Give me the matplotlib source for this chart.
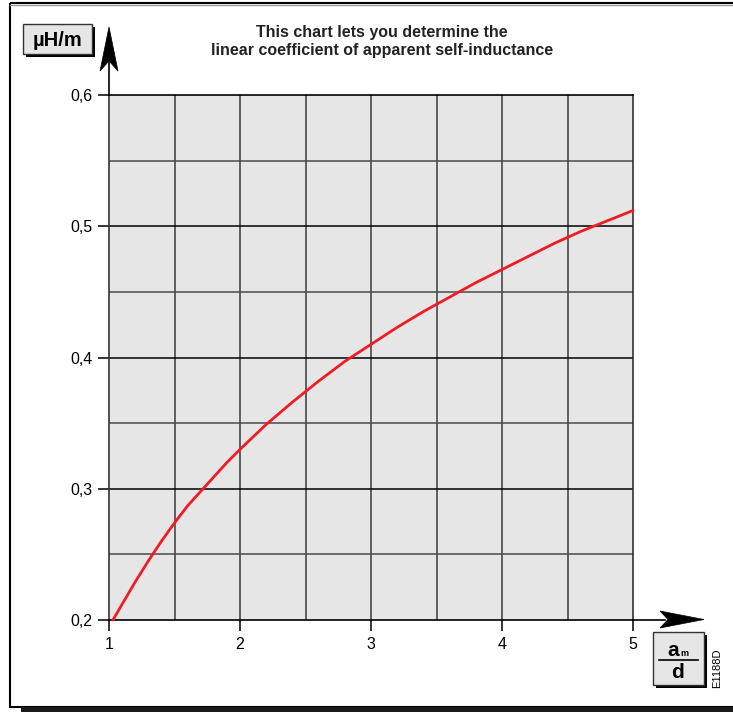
import numpy as np
import matplotlib.pyplot as plt
from matplotlib.patches import Rectangle, Polygon

plt.rcParams['font.family'] = ['Liberation Sans', 'DejaVu Sans']

# am/d ratio and linear self-inductance (uH/m)
ratio = [1.03, 1.1, 1.2, 1.3, 1.4, 1.5, 1.6, 1.7, 1.8, 1.9, 2.0,
         2.2, 2.4, 2.6, 2.8, 3.0, 3.2, 3.4, 3.6, 3.8, 4.0,
         4.2, 4.4, 4.6, 4.8, 5.0]
inductance = [0.200, 0.212, 0.229, 0.245, 0.260, 0.274, 0.287, 0.298, 0.309, 0.320, 0.330,
              0.349, 0.366, 0.382, 0.397, 0.410, 0.423, 0.435, 0.446, 0.457, 0.467,
              0.477, 0.487, 0.496, 0.504, 0.512]

x_ticks = [1, 2, 3, 4, 5]
y_ticks = [0.2, 0.3, 0.4, 0.5, 0.6]
y_labels = ['0,2', '0,3', '0,4', '0,5', '0,6']

W, H = 733, 712
fig = plt.figure(figsize=(W / 100, H / 100), dpi=100)

# main plot area
ax = fig.add_axes([109 / W, 1 - 620 / H, 524 / W, 525 / H])
ax.set_facecolor('#e6e6e6')
ax.set_xlim(1, 5)
ax.set_ylim(0.2, 0.6)
for xv in np.arange(1.5, 5, 0.5):
    ax.axvline(xv, color='#3a3a3a', lw=1.1, zorder=1)
for yv in np.arange(0.25, 0.6, 0.1):
    ax.axhline(yv, color='#4a4a4a', lw=1.1, zorder=1)
for yv in [0.3, 0.4, 0.5]:
    ax.axhline(yv, color='black', lw=1.1, zorder=1)
ax.plot(ratio, inductance, color='#ee1c25', lw=2, zorder=3, clip_on=False,
        solid_joinstyle='round', solid_capstyle='round')

for side in ['left', 'right']:
    ax.spines[side].set_color('#333333')
    ax.spines[side].set_linewidth(1.2)
for side in ['top', 'bottom']:
    ax.spines[side].set_color('black')
    ax.spines[side].set_linewidth(1.2)

ax.set_xticks(x_ticks)
ax.set_xticklabels([str(v) for v in x_ticks])
ax.set_yticks(y_ticks)
ax.set_yticklabels(y_labels)
ax.tick_params(axis='both', length=8, width=1.1, color='black', labelsize=11.5, pad=4)

# overlay in pixel coordinates for frame, arrows and unit boxes
ov = fig.add_axes([0, 0, 1, 1], zorder=5)
ov.set_xlim(0, W)
ov.set_ylim(H, 0)
ov.axis('off')
ov.patch.set_alpha(0)

ov.add_patch(Rectangle((10, 3), W, 704, fill=False, ec='black', lw=1.5))
ov.plot([10, W], [5, 5], color='#999999', lw=1)
ov.add_patch(Rectangle((21, 707), W, 8, fc='#1a1a1a', ec='none'))

# axis arrows
ov.plot([109, 109], [95, 62], color='black', lw=1.2)
ov.add_patch(Polygon([(109, 27), (118, 71), (109, 61), (100, 71)], closed=True, fc='black', ec='black', lw=0.5))
ov.plot([633, 665], [620, 620], color='black', lw=1.2)
ov.add_patch(Polygon([(704, 619.5), (660, 628), (668, 619.5), (660, 611)], closed=True, fc='black', ec='black', lw=0.5))

# unit box for the y axis
ov.add_patch(Rectangle((26, 27), 69, 30, fc='black', ec='none'))
ov.add_patch(Rectangle((23, 24), 69, 30, fc='#e6e6e6', ec='#333333', lw=1))
ov.text(57, 40, 'µH/m', fontsize=14.5, fontweight='bold', ha='center', va='center')

# unit box for the x axis
ov.add_patch(Rectangle((656, 635), 51, 53, fc='black', ec='none'))
ov.add_patch(Rectangle((653, 632), 51, 53, fc='#e6e6e6', ec='#333333', lw=1))
ov.text(679, 650, 'a', fontsize=15, fontweight='bold', ha='right', va='center')
ov.text(680, 654, 'm', fontsize=6.5, fontweight='bold', ha='left', va='center')
ov.plot([659, 698], [659.5, 659.5], color='black', lw=1.2)
ov.text(678, 672, 'd', fontsize=15, fontweight='bold', ha='center', va='center')

ov.text(717, 668, 'E1188D', fontsize=8, rotation=90, ha='center', va='center')

ov.text(382, 33, 'This chart lets you determine the', fontsize=11.5, fontweight='bold', ha='center', va='center', color='#222222')
ov.text(382, 50, 'linear coefficient of apparent self-inductance', fontsize=11.5, fontweight='bold', ha='center', va='center', color='#222222')

fig.savefig('out.png', dpi=100)
